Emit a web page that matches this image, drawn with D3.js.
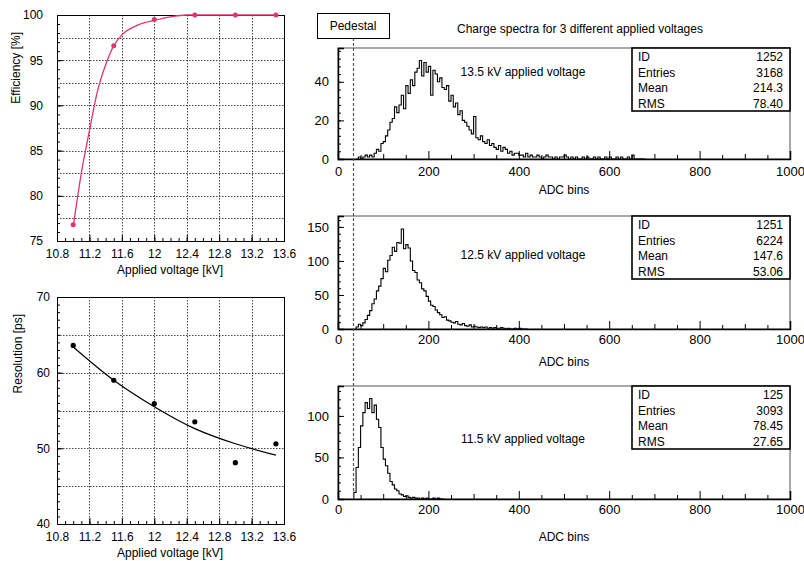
<!DOCTYPE html>
<html>
<head>
<meta charset="utf-8">
<script src="https://cdn.jsdelivr.net/npm/d3@7"></script>
<style>
  body { margin: 0; background: #fff; }
  svg text { font-family: "Liberation Sans", Arial, sans-serif; fill: #000; }
</style>
</head>
<body>
<div class="chart"></div>
<script>
// efficiency vs voltage
const effVoltage = [11.0, 11.5, 12.0, 12.5, 13.0, 13.5];
const effValues = [76.8, 96.6, 99.5, 100, 100, 100];
const effFitVoltage = [11.0, 11.1, 11.2, 11.3, 11.4, 11.5, 11.6, 11.8, 12.0, 12.2, 12.4, 12.8, 13.5];
const effFitValues = [76.6, 82.5, 87.2, 91.6, 94.5, 96.6, 97.8, 98.9, 99.4, 99.8, 100, 100, 100];

// resolution vs voltage
const resVoltage = [11.0, 11.5, 12.0, 12.5, 13.0, 13.5];
const resValues = [63.6, 59.0, 55.9, 53.5, 48.1, 50.6];
const resFitVoltage = [11.0, 11.5, 12.0, 12.5, 13.0, 13.5];
const resFitValues = [63.4, 59.0, 55.5, 52.6, 50.6, 49.1];

const voltTicks = [10.8, 11.2, 11.6, 12, 12.4, 12.8, 13.2, 13.6];

// charge spectra, bins of 5 ADC
const binWidth = 5;
const spectrumNames = ["13.5 kV applied voltage", "12.5 kV applied voltage", "11.5 kV applied voltage"];
const spectrumStart = [40, 40, 35];
const spectrum135 = [
  0, 1, 0, 1, 2, 1, 2, 1,
  3, 5, 4, 8, 9, 12, 15, 19,
  21, 27, 24, 28, 33, 26, 38, 34,
  41, 38, 45, 47, 51, 43, 50, 45,
  48, 33, 46, 44, 40, 42, 37, 36,
  38, 30, 33, 27, 29, 23, 25, 20,
  19, 17, 15, 13, 22, 11, 10, 12,
  9, 8, 10, 7, 8, 6, 5, 7,
  4, 6, 5, 3, 4, 2, 3, 3,
  2, 2, 1, 3, 1, 2, 1, 1,
  2, 1, 0, 1, 2, 1, 1, 0,
  1, 0, 1, 1, 2, 1, 0, 1,
  0, 1, 0, 0, 1, 0, 1, 0,
  0, 1, 0, 1, 0, 0, 1, 0,
  1, 0, 0, 1, 0, 1, 0, 0,
  1, 0, 2, 0, 0, 0, 0, 0
];
const spectrum125 = [
  3, 7, 5, 9, 14, 20, 27, 37,
  44, 56, 63, 74, 89, 84, 101, 108,
  120, 114, 127, 126, 147, 118, 124, 119,
  100, 86, 83, 72, 68, 59, 56, 48,
  41, 35, 33, 28, 24, 21, 17, 18,
  13, 12, 10, 9, 11, 7, 6, 8,
  5, 4, 6, 3, 4, 3, 2, 3,
  2, 3, 1, 2, 1, 2, 1, 1,
  2, 1, 0, 1, 0, 0, 1, 0,
  1, 0, 0, 0
];
const spectrum115 = [
  8, 38, 62, 88, 104, 116, 109, 121,
  104, 113, 96, 86, 62, 48, 40, 31,
  21, 17, 12, 10, 6, 5, 3, 4,
  2, 1, 2, 1, 1, 0, 1, 0,
  1, 0, 0, 1, 0, 1, 0, 0
];
const spectra = [spectrum135, spectrum125, spectrum115];
const spectrumTicks = [[0, 20, 40], [0, 50, 100, 150], [0, 50, 100]];
const statLabels = ["ID", "Entries", "Mean", "RMS"];
const statValues = [
  ["1252", "3168", "214.3", "78.40"],
  ["1251", "6224", "147.6", "53.06"],
  ["125", "3093", "78.45", "27.65"]
];
const pedestal = 33;

const svg = d3.select(".chart").append("svg")
  .attr("width", 804)
  .attr("height", 561);

const pink = "#e5336b";
const px = v => Math.round(v) + 0.5;

// ---------- left plots ----------
function voltPlot(top, bottom, yDomain, yMajor, yMinorStep, yGrid, labelPad, title, titleX) {
  const x = d3.scaleLinear().domain([10.8, 13.6]).range([57, 284]);
  const y = d3.scaleLinear().domain(yDomain).range([bottom, top]);
  const g = svg.append("g");

  // grid
  g.selectAll("line.vg").data([11.2, 11.6, 12, 12.4, 12.8, 13.2]).join("line")
    .attr("class", "vg")
    .attr("x1", d => px(x(d))).attr("x2", d => px(x(d)))
    .attr("y1", top).attr("y2", bottom)
    .attr("stroke", "#444").attr("stroke-dasharray", "1.5,1.5");
  g.selectAll("line.hg").data(yGrid).join("line")
    .attr("class", "hg")
    .attr("x1", 57).attr("x2", 284)
    .attr("y1", d => px(y(d))).attr("y2", d => px(y(d)))
    .attr("stroke", "#444").attr("stroke-dasharray", "1.5,1.5");

  // minor ticks
  g.append("g").attr("transform", `translate(0,${bottom})`)
    .call(d3.axisBottom(x).tickValues(d3.range(10.9, 13.55, 0.1)).tickSize(-3).tickFormat(""))
    .call(a => a.select(".domain").remove());
  g.append("g").attr("transform", "translate(57,0)")
    .call(d3.axisLeft(y).tickValues(d3.range(yDomain[0], yDomain[1], yMinorStep)).tickSize(-3).tickFormat(""))
    .call(a => a.select(".domain").remove());

  // major axes
  g.append("g").attr("transform", `translate(0,${bottom})`)
    .call(d3.axisBottom(x).tickValues(voltTicks).tickSize(-6).tickPadding(8).tickFormat(d3.format("~g")))
    .call(a => a.select(".domain").remove())
    .call(a => a.selectAll("text").style("font-size", "12px").attr("dy", "0.72em"));
  g.append("g").attr("transform", "translate(57,0)")
    .call(d3.axisLeft(y).tickValues(yMajor).tickSize(-6).tickPadding(labelPad))
    .call(a => a.select(".domain").remove())
    .call(a => a.selectAll("text").style("font-size", "12px"));

  g.append("rect").attr("x", 57.5).attr("y", top + 0.5).attr("width", 227).attr("height", bottom - top)
    .attr("fill", "none").attr("stroke", "#000");

  g.append("text").attr("x", 170).attr("y", bottom + 33)
    .attr("text-anchor", "middle").style("font-size", "12px").text("Applied voltage [kV]");
  g.append("text")
    .attr("transform", `translate(${titleX},${top + 17}) rotate(-90)`)
    .attr("text-anchor", "end").style("font-size", "12px").text(title);
  return { g, x, y };
}

const eff = voltPlot(15, 241, [75, 100], [75, 80, 85, 90, 95, 100], 1,
  [77.5, 80, 82.5, 85, 87.5, 90, 92.5, 95, 97.5], 14, "Efficiency [%]", 20);
eff.g.append("path")
  .datum(effFitVoltage.map((v, i) => [v, effFitValues[i]]))
  .attr("fill", "none").attr("stroke", pink).attr("stroke-width", 1.3)
  .attr("d", d3.line().x(d => eff.x(d[0])).y(d => eff.y(d[1])).curve(d3.curveMonotoneX));
eff.g.selectAll("circle.pt").data(effVoltage).join("circle")
  .attr("class", "pt")
  .attr("cx", d => eff.x(d)).attr("cy", (d, i) => eff.y(effValues[i]))
  .attr("r", 2.5).attr("fill", pink);

const res = voltPlot(297, 524, [40, 70], [40, 50, 60, 70], 1,
  [45, 50, 55, 60, 65], 7, "Resolution [ps]", 22);
res.g.append("path")
  .datum(resFitVoltage.map((v, i) => [v, resFitValues[i]]))
  .attr("fill", "none").attr("stroke", "#000").attr("stroke-width", 1.2)
  .attr("d", d3.line().x(d => res.x(d[0])).y(d => res.y(d[1])).curve(d3.curveMonotoneX));
res.g.selectAll("circle.pt").data(resVoltage).join("circle")
  .attr("class", "pt")
  .attr("cx", d => res.x(d)).attr("cy", (d, i) => res.y(resValues[i]))
  .attr("r", 2.6).attr("fill", "#000");

// ---------- charge spectra ----------
const panels = [
  { top: 48, bottom: 159, ymax: 57.5, minor: 4, labelY: 72, tickY: 176, titleY: 194 },
  { top: 216, bottom: 329, ymax: 166, minor: 10, labelY: 255, tickY: 344, titleY: 366 },
  { top: 386, bottom: 499, ymax: 136, minor: 10, labelY: 439, tickY: 514, titleY: 541 }
];
const hx = d3.scaleLinear().domain([0, 1000]).range([338, 790]);

svg.append("text").attr("x", 580).attr("y", 33).attr("text-anchor", "middle")
  .style("font-size", "12px").text("Charge spectra for 3 different applied voltages");

panels.forEach((p, k) => {
  const y = d3.scaleLinear().domain([0, p.ymax]).range([p.bottom, p.top]);
  const g = svg.append("g");

  g.append("rect").attr("x", 338).attr("y", p.top).attr("width", 452).attr("height", p.bottom - p.top)
    .attr("fill", "none").attr("stroke", "#555").attr("stroke-width", 1);

  // histogram outline
  const vals = spectra[k];
  const start = spectrumStart[k];
  const pts = [[start, 0]];
  vals.forEach((v, i) => pts.push([start + i * binWidth, v]));
  pts.push([start + vals.length * binWidth, 0]);
  g.append("path").datum(pts)
    .attr("fill", "none").attr("stroke", "#000").attr("stroke-width", 1.1)
    .attr("d", d3.line().x(d => hx(d[0])).y(d => y(d[1])).curve(d3.curveStepAfter));

  // x ticks
  g.append("g").attr("transform", `translate(0,${p.bottom})`)
    .call(d3.axisBottom(hx).tickValues(d3.range(50, 1000, 100)).tickSize(-4).tickFormat(""))
    .call(a => a.select(".domain").remove());
  g.append("g").attr("transform", `translate(0,${p.bottom})`)
    .call(d3.axisBottom(hx).tickValues([100, 300, 500, 700, 900]).tickSize(-5).tickFormat(""))
    .call(a => a.select(".domain").remove());
  g.append("g").attr("transform", `translate(0,${p.bottom})`)
    .call(d3.axisBottom(hx).tickValues([0, 200, 400, 600, 800, 1000]).tickSize(-8).tickPadding(0).tickFormat(d3.format("d")))
    .call(a => a.select(".domain").attr("stroke-width", 1.5))
    .call(a => a.selectAll("text").attr("y", p.tickY - p.bottom).attr("dy", 0).style("font-size", "13px"));

  // y ticks
  g.append("g").attr("transform", "translate(338,0)")
    .call(d3.axisLeft(y).tickValues(d3.range(0, p.ymax, p.minor)).tickSize(-3).tickFormat(""))
    .call(a => a.select(".domain").remove());
  g.append("g").attr("transform", "translate(338,0)")
    .call(d3.axisLeft(y).tickValues(spectrumTicks[k]).tickSize(-6).tickPadding(9))
    .call(a => a.select(".domain").attr("stroke-width", 1.5))
    .call(a => a.selectAll("text").style("font-size", "13px"));

  g.append("text").attr("x", 564).attr("y", p.titleY).attr("text-anchor", "middle")
    .style("font-size", "12px").text("ADC bins");
  g.append("text").attr("x", 523).attr("y", p.labelY + 4).attr("text-anchor", "middle")
    .style("font-size", "12px").text(spectrumNames[k]);

  // stats box
  const bh = 63;
  g.append("rect").attr("x", 632).attr("y", p.top).attr("width", 158).attr("height", bh)
    .attr("fill", "#fff").attr("stroke", "#000").attr("stroke-width", 1.6);
  statLabels.forEach((s, i) => {
    const ty = p.top + 8.5 + i * 15.5 + 4.5;
    g.append("text").attr("x", 638).attr("y", ty).style("font-size", "12px").text(s);
    g.append("text").attr("x", 783).attr("y", ty).attr("text-anchor", "end")
      .style("font-size", "12px").text(statValues[k][i]);
  });
});

// pedestal marker
svg.append("line")
  .attr("x1", px(hx(pedestal))).attr("x2", px(hx(pedestal)))
  .attr("y1", 38).attr("y2", 499)
  .attr("stroke", "#555").attr("stroke-width", 1.2).attr("stroke-dasharray", "3,2");
svg.append("rect").attr("x", 317.5).attr("y", 13.5).attr("width", 72).attr("height", 25)
  .attr("fill", "#fff").attr("stroke", "#000");
svg.append("text").attr("x", 353).attr("y", 30).attr("text-anchor", "middle")
  .style("font-size", "12px").text("Pedestal");
</script>
</body>
</html>
